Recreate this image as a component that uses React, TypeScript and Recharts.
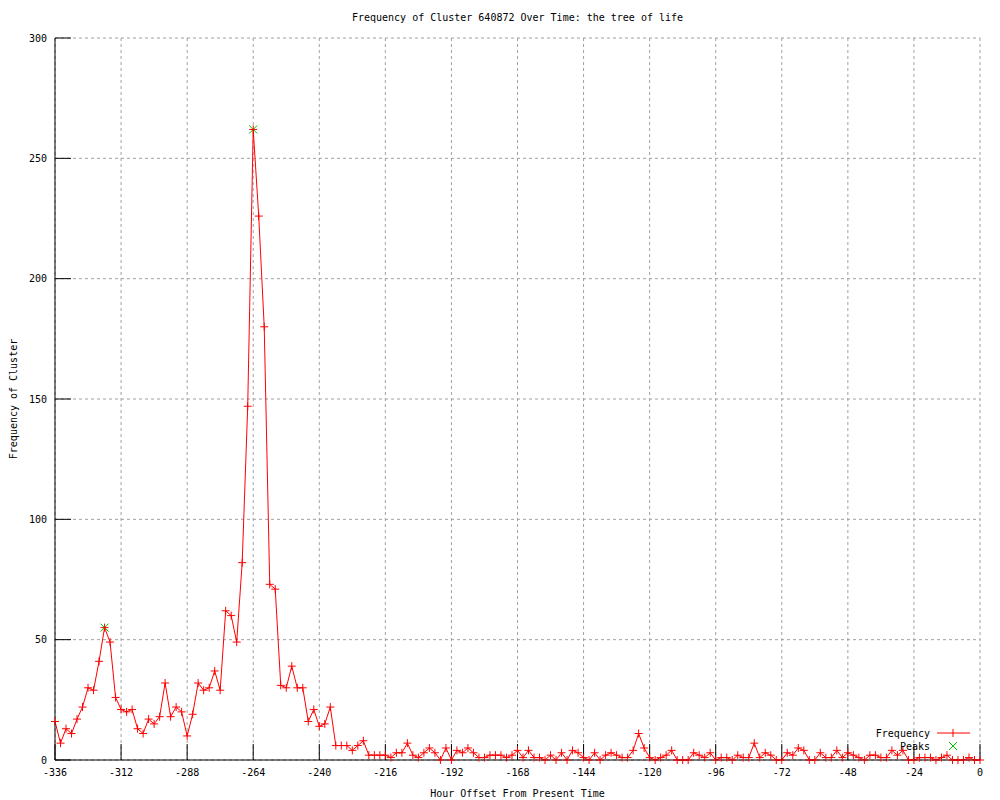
import React from 'react'
import { ComposedChart, Line, Scatter, XAxis, YAxis, CartesianGrid, Legend } from 'recharts'

// hour offsets (every 2 hours) and cluster frequency
const hours = [
  -336, -334, -332, -330, -328, -326, -324, -322, -320, -318, -316, -314, -312, -310, -308, -306, -304, -302, -300, -298,
  -296, -294, -292, -290, -288, -286, -284, -282, -280, -278, -276, -274, -272, -270, -268, -266, -264, -262, -260, -258,
  -256, -254, -252, -250, -248, -246, -244, -242, -240, -238, -236, -234, -232, -230, -228, -226, -224, -222, -220, -218,
  -216, -214, -212, -210, -208, -206, -204, -202, -200, -198, -196, -194, -192, -190, -188, -186, -184, -182, -180, -178,
  -176, -174, -172, -170, -168, -166, -164, -162, -160, -158, -156, -154, -152, -150, -148, -146, -144, -142, -140, -138,
  -136, -134, -132, -130, -128, -126, -124, -122, -120, -118, -116, -114, -112, -110, -108, -106, -104, -102, -100, -98,
  -96, -94, -92, -90, -88, -86, -84, -82, -80, -78, -76, -74, -72, -70, -68, -66, -64, -62, -60, -58,
  -56, -54, -52, -50, -48, -46, -44, -42, -40, -38, -36, -34, -32, -30, -28, -26, -24, -22, -20, -18,
  -16, -14, -12, -10, -8, -6, -4, -2, 0,
]

const frequency = [
  16, 7, 13, 11, 17, 22, 30, 29, 41, 55, 49, 26, 21, 20, 21, 13, 11, 17, 15, 18,
  32, 18, 22, 20, 10, 19, 32, 29, 30, 37, 29, 62, 60, 49, 82, 147, 262, 226, 180, 73,
  71, 31, 30, 39, 30, 30, 16, 21, 14, 15, 22, 6, 6, 6, 4, 6, 8, 2, 2, 2,
  2, 1, 3, 3, 7, 2, 1, 3, 5, 3, 0, 5, 0, 4, 3, 5, 3, 1, 1, 2,
  2, 2, 1, 2, 4, 1, 4, 1, 1, 0, 2, 0, 3, 0, 4, 3, 1, 0, 3, 0,
  2, 3, 2, 1, 1, 4, 11, 5, 1, 0, 1, 2, 4, 0, 0, 0, 3, 2, 1, 3,
  0, 1, 1, 0, 2, 1, 1, 7, 1, 3, 2, 0, 0, 3, 2, 5, 4, 0, 0, 3,
  1, 1, 4, 1, 3, 2, 1, 0, 2, 2, 1, 1, 4, 2, 4, 0, 0, 1, 1, 1,
  0, 1, 2, 0, 0, 0, 1, 0, 0,
]

const peakHours = [-318, -264]
const peakValues = [55, 262]

const xTicks = [-336, -312, -288, -264, -240, -216, -192, -168, -144, -120, -96, -72, -48, -24, 0]
const yTicks = [0, 50, 100, 150, 200, 250, 300]

const FONT = '"DejaVu Sans Mono", monospace'
const RED = '#ff0000'
const GREEN = '#00c000'

const data = hours.map((h, i) => ({ hour: h, freq: frequency[i] }))
const peaks = peakHours.map((h, i) => ({ hour: h, peak: peakValues[i] }))

const PlusDot = (props: any) => {
  const { cx, cy, index } = props
  if (cx == null || cy == null) return null
  return (
    <path
      key={`p-${index}`}
      d={`M${cx - 4},${cy}H${cx + 4}M${cx},${cy - 4}V${cy + 4}`}
      stroke={RED}
      strokeWidth={1}
      fill="none"
    />
  )
}

const CrossMark = (props: any) => {
  const { cx, cy } = props
  if (cx == null || cy == null) return null
  return (
    <path
      d={`M${cx - 4},${cy - 4}L${cx + 4},${cy + 4}M${cx - 4},${cy + 4}L${cx + 4},${cy - 4}`}
      stroke={GREEN}
      strokeWidth={1}
      fill="none"
    />
  )
}

const YTitle = (props: any) => {
  const vb = props.viewBox
  const cx = vb.x + 8
  const cy = vb.y + vb.height / 2
  return (
    <text x={cx} y={cy} transform={`rotate(-90 ${cx} ${cy})`} textAnchor="middle" dominantBaseline="central"
      fontFamily={FONT} fontSize={10} fill="#000">
      Frequency of Cluster
    </text>
  )
}

const XTitle = (props: any) => {
  const vb = props.viewBox
  return (
    <text x={vb.x + vb.width / 2} y={vb.y + 33} textAnchor="middle" dominantBaseline="central"
      fontFamily={FONT} fontSize={10} fill="#000">
      Hour Offset From Present Time
    </text>
  )
}

const LegendBox = () => (
  <svg width={120} height={30} style={{ display: 'block' }}>
    <text x={70} y={9} textAnchor="end" dominantBaseline="central" fontFamily={FONT} fontSize={10} fill="#000">Frequency</text>
    <line x1={77} y1={9} x2={110} y2={9} stroke={RED} strokeWidth={1} />
    <path d="M93,5V13" stroke={RED} strokeWidth={1} />
    <text x={70} y={22} textAnchor="end" dominantBaseline="central" fontFamily={FONT} fontSize={10} fill="#000">Peaks</text>
    <path d="M89,18L97,26M89,26L97,18" stroke={GREEN} strokeWidth={1} />
  </svg>
)

export default function App() {
  const tickStyle = { fontFamily: FONT, fontSize: 10, fill: '#000' }
  return (
    <div style={{ position: 'absolute', left: 0, top: 0, width: 1000, height: 800, background: '#fff' }}>
      <div style={{ position: 'absolute', left: 0, top: 12, width: 1035, textAlign: 'center', fontFamily: FONT, fontSize: 10, lineHeight: '12px', color: '#000' }}>
        Frequency of Cluster 640872 Over Time: the tree of life
      </div>
      <ComposedChart width={1000} height={800} data={data} margin={{ top: 38, right: 20, bottom: 0, left: 5 }}>
        <CartesianGrid stroke="#a0a0a0" strokeDasharray="3 3" />
        <XAxis
          dataKey="hour"
          type="number"
          domain={[-336, 0]}
          ticks={xTicks}
          interval={0}
          height={40}
          tickSize={-16}
          tickMargin={25}
          tick={tickStyle}
          tickLine={{ stroke: '#000' }}
          axisLine={{ stroke: '#000' }}
          label={<XTitle />}
        />
        <XAxis
          xAxisId="top"
          orientation="top"
          dataKey="hour"
          type="number"
          domain={[-336, 0]}
          ticks={xTicks}
          interval={0}
          height={0}
          tickSize={-16}
          tick={false}
          tickLine={{ stroke: '#000' }}
          axisLine={{ stroke: '#000' }}
        />
        <YAxis
          type="number"
          domain={[0, 300]}
          ticks={yTicks}
          interval={0}
          width={50}
          tickSize={-16}
          tickMargin={24}
          tick={tickStyle}
          tickLine={{ stroke: '#000' }}
          axisLine={{ stroke: '#000' }}
          label={<YTitle />}
        />
        <YAxis
          yAxisId="right"
          orientation="right"
          type="number"
          domain={[0, 300]}
          ticks={yTicks}
          interval={0}
          width={0}
          tickSize={-16}
          tick={false}
          tickLine={{ stroke: '#000' }}
          axisLine={{ stroke: '#000' }}
        />
        <Line
          dataKey="freq"
          type="linear"
          stroke={RED}
          strokeWidth={1}
          dot={PlusDot}
          activeDot={false}
          isAnimationActive={false}
        />
        <Scatter
          data={peaks}
          dataKey="peak"
          xAxisId="top"
          yAxisId="right"
          shape={CrossMark}
          isAnimationActive={false}
        />
        <Legend
          layout="horizontal"
          verticalAlign="middle"
          align="center"
          wrapperStyle={{ left: 860, top: 724, width: 120 }}
          content={() => <LegendBox />}
        />
      </ComposedChart>
    </div>
  )
}
